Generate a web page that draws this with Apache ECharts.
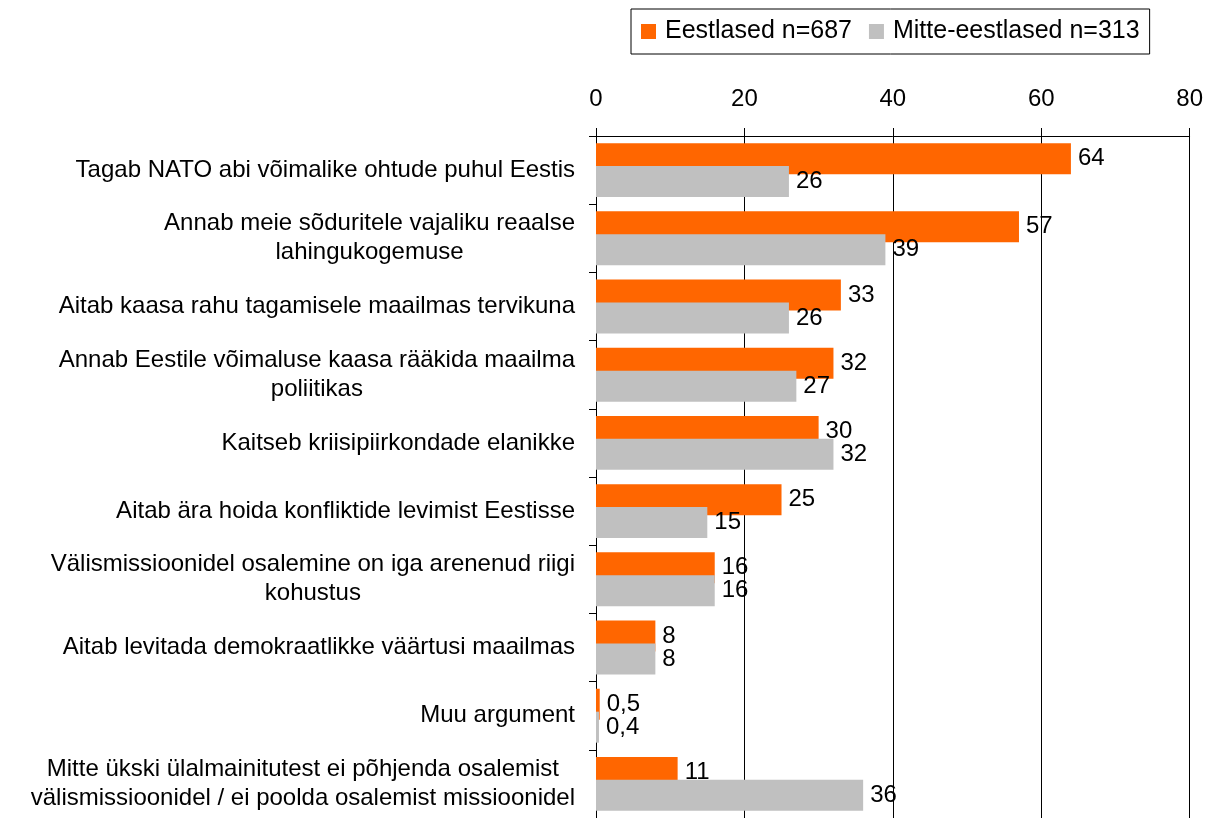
<!DOCTYPE html>
<html>
<head>
<meta charset="utf-8">
<script src="https://cdn.jsdelivr.net/npm/echarts@6/dist/echarts.min.js"></script>
<style>
  html, body { margin: 0; padding: 0; background: #fff; }
  #chart { width: 1206px; height: 818px; }
</style>
</head>
<body>
<div id="chart"></div>
<script>
const categories = [
  'Tagab NATO abi võimalike ohtude puhul Eestis',
  'Annab meie sõduritele vajaliku reaalse\nlahingukogemuse',
  'Aitab kaasa rahu tagamisele maailmas tervikuna',
  'Annab Eestile võimaluse kaasa rääkida maailma\npoliitikas',
  'Kaitseb kriisipiirkondade elanikke',
  'Aitab ära hoida konfliktide levimist Eestisse',
  'Välismissioonidel osalemine on iga arenenud riigi\nkohustus',
  'Aitab levitada demokraatlikke väärtusi maailmas',
  'Muu argument',
  'Mitte ükski ülalmainitutest ei põhjenda osalemist\nvälismissioonidel / ei poolda osalemist missioonidel'
];
const estonians = [64, 57, 33, 32, 30, 25, 16, 8, 0.5, 11];
const nonEstonians = [26, 39, 26, 27, 32, 15, 16, 8, 0.4, 36];
const seriesNames = ['Eestlased n=687', 'Mitte-eestlased n=313'];
const xTicks = { min: 0, max: 80, interval: 20 };

const FONT = "'Liberation Sans', Arial, sans-serif";

const chart = echarts.init(document.getElementById('chart'));

const labelStyle = {
  show: true,
  position: 'right',
  distance: 7,
  color: '#000',
  fontSize: 24,
  fontFamily: FONT,
  formatter: p => String(p.value).replace('.', ',')
};

chart.setOption({
  animation: false,
  textStyle: { fontFamily: FONT },
  legend: {
    left: 631,
    top: 9,
    padding: [10, 10, 10, 10],
    borderColor: '#000',
    borderWidth: 1,
    itemWidth: 15,
    itemHeight: 15,
    itemGap: 17,
    textStyle: { fontSize: 25, color: '#000', fontFamily: FONT, padding: [0, 0, 0, 4] },
    data: seriesNames.map(n => ({ name: n, icon: 'rect' }))
  },
  grid: { left: 596, right: 16, top: 136, height: 690 },
  xAxis: {
    type: 'value',
    position: 'top',
    min: xTicks.min,
    max: xTicks.max,
    interval: xTicks.interval,
    axisLine: { show: true, lineStyle: { color: '#000', width: 1 } },
    axisTick: { show: true, length: 8, lineStyle: { color: '#000' } },
    axisLabel: { fontSize: 24, color: '#000', margin: 25, fontFamily: FONT },
    splitLine: { show: true, lineStyle: { color: '#000', width: 1 } }
  },
  yAxis: {
    type: 'category',
    inverse: true,
    data: categories,
    axisLine: { show: true, lineStyle: { color: '#000', width: 1 } },
    axisTick: { show: true, length: 7, lineStyle: { color: '#000' } },
    axisLabel: {
      margin: 21,
      align: 'right',
      formatter: v => v.split('\n').map(l => '{c|' + l + '}').join('\n'),
      rich: {
        c: { align: 'center', fontSize: 24, lineHeight: 29, color: '#000', fontFamily: FONT }
      }
    }
  },
  series: [
    {
      name: seriesNames[0],
      type: 'bar',
      data: estonians,
      barWidth: 31,
      barGap: '-26%',
      itemStyle: { color: '#ff6600' },
      label: labelStyle
    },
    {
      name: seriesNames[1],
      type: 'bar',
      data: nonEstonians,
      barWidth: 31,
      barGap: '-26%',
      itemStyle: { color: '#c0c0c0' },
      label: labelStyle
    }
  ]
});
</script>
</body>
</html>
